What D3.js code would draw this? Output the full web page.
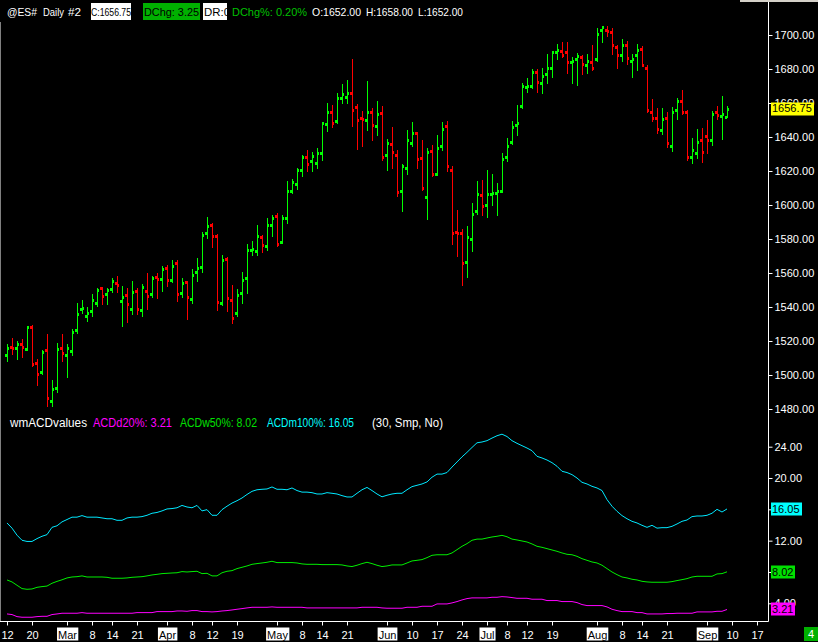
<!DOCTYPE html>
<html><head><meta charset="utf-8">
<script src="https://cdn.jsdelivr.net/npm/d3@7/dist/d3.min.js"></script>
<style>html,body{margin:0;padding:0;background:#000;}svg{display:block;font-family:"Liberation Sans",Arial,sans-serif;}</style>
</head><body>
<svg id="c" width="818" height="642"></svg>
<script>
// ---- data (bar index 0 = Feb 12, 2013; one bar per trading day) ----
const openP = [1511.5,1516.75,1515.75,1518,1515.25,1528.25,1507,1501.5,1514.5,1484.5,1492.25,1516,1511.5,1514,1526.25,1538.75,1534.5,1537.5,1542.25,1551,1547.5,1550.5,1554,1543.5,1547,1538.75,1549.5,1538.25,1549.5,1547.5,1557.5,1556.25,1562.75,1555.75,1566,1548,1554.75,1545,1560.5,1563.25,1583.25,1588,1581.5,1542.25,1568.5,1544,1536.25,1548,1557,1573.25,1572.75,1581,1575.75,1588,1593.25,1578.5,1592.25,1608,1612.25,1620.5,1628,1625.75,1625,1630.5,1647.5,1655,1649.25,1662.75,1663.25,1665.75,1657.5,1651,1649.75,1654.5,1646.25,1654,1629.25,1635.75,1629.25,1608,1621.5,1636.25,1642.25,1627.5,1604.5,1631.5,1618.5,1634.5,1646.25,1620.5,1584,1583.25,1566.25,1579.75,1596.25,1606,1599.75,1606.25,1607,1608.5,1628.5,1637,1647,1658,1669.25,1669.75,1678,1671.5,1677,1680.5,1690.25,1690.5,1689.75,1684,1685.75,1687,1682.25,1684,1685.75,1702.75,1702.75,1701.5,1692.75,1688.5,1694,1685,1688,1691.5,1680.5,1654.5,1651,1644,1651,1635,1655.75,1661,1654.5,1628,1630.5,1638.5,1640.5,1638,1654.5,1652.25,1652];
const highP = [1518.25,1521.75,1520,1521.25,1529,1529.5,1509.5,1514.75,1524.25,1497,1518.75,1524.25,1518,1527,1542.5,1544.25,1540,1547.75,1551.25,1551.75,1551.25,1557,1558.25,1552.5,1551.25,1555.5,1551.25,1553.5,1560,1558.25,1559.75,1564,1564.75,1567.75,1567.75,1557,1555.5,1562.5,1568.75,1584,1593,1589.5,1583,1570.5,1569.5,1553,1550.5,1560.5,1577,1578.75,1588.25,1582.5,1592.5,1594,1595.25,1594,1614,1615.25,1621.75,1629.5,1632.5,1631.25,1633.5,1648.75,1660,1658.75,1666,1671.25,1673.5,1686,1659.5,1655.25,1673,1657,1661.25,1658.25,1638.75,1646,1632.5,1624,1644,1648.75,1643,1638.25,1633.5,1635.25,1641.25,1648.75,1649.5,1623,1597,1586,1587.5,1601.25,1614,1614.75,1620.5,1618.25,1613,1630.5,1639.5,1649.5,1658.75,1671.75,1674.75,1680,1680,1680.5,1688.75,1690.5,1694.75,1696,1696,1687,1689.5,1688.25,1688.75,1694,1704,1705.25,1705.25,1704,1694,1697.5,1696.5,1688.75,1694.75,1693.5,1682.25,1662.5,1657,1657,1654.75,1657.5,1663,1667.5,1656,1639.5,1644.75,1645.25,1650,1655.25,1658.25,1664,1658];
const lowP = [1508,1512.5,1509.5,1510.75,1514.5,1505.5,1494.25,1500.5,1481.5,1482,1489.75,1508.25,1499,1511.75,1524.5,1536.75,1532,1535,1540.5,1541.5,1542,1549,1549,1529,1531.25,1536,1536,1535,1539,1546,1545.5,1549.5,1552.5,1554.5,1543.5,1546,1533,1542.5,1555.25,1560.5,1580.75,1575,1538.5,1541.25,1537.75,1530.75,1535,1542.5,1548.5,1570.5,1570.5,1572.5,1573.75,1581.5,1576,1577.75,1589.5,1607.25,1609.5,1617.25,1620.25,1620.25,1622,1626.75,1643.25,1646,1648.5,1660,1660,1646.75,1633,1635,1644,1638.5,1641.25,1626.75,1620.5,1621.75,1605.5,1596.75,1618.5,1635,1622,1609,1592,1617.25,1617.75,1632.5,1620.25,1577.25,1570.25,1553,1557.75,1573,1595,1594.25,1593,1600.25,1594.25,1607.75,1626,1636,1641.25,1657.25,1666.75,1669,1666.5,1666,1671.75,1675.25,1686,1687,1677.5,1671.75,1670.5,1677,1677.5,1679.5,1685,1696,1699.5,1689,1680.75,1685,1683,1675.5,1679.5,1681.5,1655,1649.5,1642.5,1641.5,1634.25,1632,1650.5,1653.5,1626.75,1625,1627.75,1625.5,1630.75,1635.5,1650.75,1639,1652];
const closeP = [1515.75,1516,1518.25,1516.5,1528,1506.5,1500.5,1513.75,1486.25,1491.5,1515.25,1512.75,1516,1525.5,1536,1539.25,1536.5,1544.25,1550,1546.5,1549.75,1555.5,1552.75,1546,1541.5,1548.75,1538.75,1551.5,1546.25,1557.25,1556.25,1562.25,1555.75,1564,1547.75,1554,1545.75,1559,1563,1582.5,1587.5,1581.5,1542.75,1567.75,1545.5,1533.25,1547.25,1555.75,1573.25,1574,1581.5,1576.25,1588.25,1592.5,1577,1592.5,1608,1613.25,1620.5,1628,1624.25,1629,1630.5,1648,1654.5,1648,1662.75,1665,1665.75,1655.75,1649.75,1650.5,1654.5,1647,1653.25,1628.5,1636.25,1631,1607.5,1622.75,1638.5,1642.25,1627,1609.75,1631,1618,1633.25,1645,1623,1583.25,1583.25,1565.75,1581,1595,1606.25,1599.25,1606.25,1607,1608.5,1627,1635,1645.75,1648.5,1669.75,1669.75,1678,1672.25,1675.75,1680.5,1689.75,1691,1688.5,1684,1684.5,1687.5,1682.75,1685,1680.5,1700.5,1704.5,1702.25,1694,1688.5,1694,1686.25,1685.75,1691,1682.25,1655.75,1651,1645,1650.5,1636.25,1654.5,1661,1654.5,1628,1632.25,1637,1631,1638.5,1653.25,1652.75,1653.5,1656.75];

const acdD20 = [2.64,2.56,2.3,2.22,2.22,2.22,2.3,2.34,2.34,2.56,2.64,2.73,2.73,2.73,2.73,2.81,2.73,2.73,2.73,2.73,2.73,2.73,2.73,2.73,2.73,2.73,2.81,2.81,2.81,2.81,2.94,2.94,2.94,2.94,3.02,3.02,2.98,3.07,3.07,2.94,2.94,2.9,2.94,3.02,3.07,3.15,3.24,3.32,3.41,3.49,3.49,3.49,3.49,3.54,3.49,3.49,3.49,3.49,3.49,3.49,3.41,3.41,3.41,3.41,3.41,3.41,3.41,3.41,3.41,3.41,3.41,3.49,3.49,3.49,3.49,3.41,3.37,3.37,3.37,3.37,3.49,3.49,3.49,3.62,3.62,3.62,3.92,3.92,3.92,4.05,4.22,4.43,4.6,4.69,4.69,4.69,4.69,4.77,4.77,4.85,4.81,4.73,4.64,4.64,4.64,4.52,4.52,4.52,4.35,4.35,4.35,4.22,4.22,4.22,4.09,3.84,3.71,3.71,3.71,3.71,3.54,3.24,3.07,2.94,2.94,2.94,2.81,2.81,2.64,2.64,2.64,2.64,2.69,2.69,2.73,2.73,2.73,2.73,2.9,2.9,2.9,2.9,2.98,2.98,3.21];
const acdW50 = [6.98,6.73,6.3,5.88,5.79,5.83,6.04,6.13,6.2,6.56,6.8,7.0,7.24,7.36,7.4,7.5,7.36,7.36,7.36,7.36,7.32,7.2,7.2,7.2,7.24,7.32,7.36,7.4,7.5,7.62,7.7,7.79,7.83,7.87,7.9,8.05,8.0,8.05,8.09,7.79,7.83,7.5,7.5,7.9,8.09,8.17,8.43,8.6,8.77,8.98,9.07,9.15,9.24,9.37,9.2,9.2,9.2,9.2,9.15,9.03,8.98,8.98,8.98,8.94,8.94,8.94,8.94,8.9,8.77,8.69,8.86,9.07,9.24,9.07,8.86,8.69,8.77,8.9,8.9,8.9,9.15,9.41,9.49,9.58,9.83,10.13,10.2,10.2,10.2,10.43,10.85,11.28,11.62,12.05,12.2,12.2,12.34,12.47,12.56,12.68,12.5,12.2,12.09,11.96,11.83,11.58,11.28,11.15,10.98,10.81,10.64,10.43,10.26,10.2,10.0,9.7,9.49,9.28,9.15,8.86,8.43,8.0,7.66,7.36,7.24,7.07,6.98,6.81,6.73,6.69,6.69,6.69,6.69,6.77,6.9,7.02,7.15,7.36,7.45,7.45,7.45,7.45,7.75,7.79,8.02];
const acdM100 = [14.26,13.6,12.7,12.05,11.9,11.9,12.26,12.56,12.77,13.7,13.9,14.4,14.7,15.0,15.0,15.2,15.0,15.0,15.0,14.9,14.8,14.8,14.6,14.6,14.9,15.0,15.0,15.07,15.24,15.5,15.6,15.8,16.05,16.1,16.2,16.5,16.3,16.2,16.5,15.8,15.96,15.24,15.24,15.96,16.4,16.8,17.1,17.45,17.9,18.3,18.5,18.56,18.6,18.86,18.56,18.56,18.5,18.73,18.4,18.2,18.2,18.13,17.96,17.96,18.13,18.05,17.96,17.75,17.58,17.58,18.05,18.5,18.8,18.4,17.96,17.6,17.8,17.96,18.05,18.05,18.5,18.9,19.07,19.24,19.5,20.1,20.5,20.5,20.7,21.4,22.05,22.7,23.28,23.9,24.5,24.6,24.77,25.1,25.4,25.6,25.3,24.77,24.43,24.13,23.83,23.49,22.77,22.56,22.3,21.96,21.5,20.86,20.7,20.43,20.0,19.45,19.24,18.94,18.73,18.4,17.24,16.4,15.75,15.2,14.8,14.47,14.26,13.96,13.7,13.96,13.6,13.66,13.66,13.83,14.13,14.47,14.64,15.07,15.15,15.15,15.24,15.5,16.0,15.66,16.05];

const xTickIdx = [0,5,12,17,21,26,32,37,41,46,54,59,63,68,76,81,86,91,96,100,104,109,118,123,127,132,140,145,150];
const xTickLabels = ['12','20','Mar','8','14','21','Apr','8','12','19','May','8','14','21','Jun','10','17','24','Jul','8','12','19','Aug','8','14','21','Sep','10','17'];
const monthLabels = ['Mar','Apr','May','Jun','Jul','Aug','Sep'];
const priceTicks = [1480,1500,1520,1540,1560,1580,1600,1620,1640,1660,1680,1700];
const acdTicks = [4,8,12,16,20,24];

const headerTexts = ['@ES#','Daily','#2','C:1656.75','DChg: 3.25','DR:0','DChg%: 0.20%','O:1652.00','H:1658.00','L:1652.00'];
const legendName = 'wmACDvalues';
const legendItems = ['ACDd20%: 3.21','ACDw50%: 8.02','ACDm100%: 16.05'];
const legendParams = '(30, Smp, No)';
const lastPrice = 1656.75;
const lastAcd = [3.21, 8.02, 16.05];

// ---- drawing ----
const svg = d3.select('#c');
const FONT = 11;
svg.append('rect').attr('width',818).attr('height',642).attr('fill','#000');

const x = d3.scaleLinear().domain([0,144]).range([7,727]);
const yP = d3.scaleLinear().domain([1480,1700]).range([409,35]);
const yA = d3.scaleLinear().domain([4,24]).range([603.3,446.7]);

const GREEN = '#00ff00', RED = '#ff0000', MAG = '#ff00ff', CYAN = '#00e8ff', LGREEN='#00ee00';

// top strip
svg.append('rect').attr('x',740).attr('y',0).attr('width',78).attr('height',2).attr('fill','#d4d0c8');

// bars
const bars = svg.append('g').attr('shape-rendering','crispEdges');
d3.range(openP.length).forEach(i => {
  const col = closeP[i] >= openP[i] ? GREEN : RED;
  const cx = Math.round(x(i));
  bars.append('rect').attr('x',cx).attr('y',Math.round(yP(highP[i])))
    .attr('width',1).attr('height',Math.max(1,Math.round(yP(lowP[i]))-Math.round(yP(highP[i]))+1)).attr('fill',col);
  bars.append('rect').attr('x',cx-2).attr('y',Math.round(yP(openP[i]))-1).attr('width',2).attr('height',3).attr('fill',col);
  bars.append('rect').attr('x',cx+1).attr('y',Math.round(yP(closeP[i]))-1).attr('width',1).attr('height',3).attr('fill',col);
});

// ACD lines
const line = d3.line().x((d,i)=>x(i)).y(d=>yA(d));
[[acdD20,MAG],[acdW50,LGREEN],[acdM100,CYAN]].forEach(([arr,c])=>{
  svg.append('path').datum(arr).attr('d',line).attr('fill','none').attr('stroke',c).attr('stroke-width',1);
});

// axes lines
svg.append('line').attr('x1',768.5).attr('x2',768.5).attr('y1',2).attr('y2',621.5).attr('stroke','#fff').attr('stroke-width',1);
svg.append('line').attr('x1',0).attr('x2',768.5).attr('y1',621.5).attr('y2',621.5).attr('stroke','#fff').attr('stroke-width',1);
svg.append('line').attr('x1',0.5).attr('x2',0.5).attr('y1',22).attr('y2',621).attr('stroke','#808080').attr('stroke-width',1);

// right axes
const hiddenAcd = [8,16]; // fully covered by the value tags
const axP = d3.axisRight(yP).tickValues(priceTicks).tickSize(4).tickPadding(2).tickFormat(d3.format('.2f'));
const gP = svg.append('g').attr('transform','translate(768.5,0)').call(axP);
const axA = d3.axisRight(yA).tickValues(acdTicks).tickSize(4).tickPadding(2)
  .tickFormat(d => hiddenAcd.includes(d) ? '' : d3.format('.2f')(d));
const gA = svg.append('g').attr('transform','translate(768.5,0)').call(axA);
[gP,gA].forEach(g=>{
  g.select('.domain').remove();
  g.selectAll('line').attr('stroke','#fff');
  g.selectAll('text').attr('fill','#fff').attr('font-size',FONT).attr('font-family','"Liberation Sans",Arial,sans-serif');
});

// bottom axis
const axX = d3.axisBottom(x).tickValues(xTickIdx).tickSize(4).tickPadding(6).tickFormat((d,i)=>xTickLabels[i]);
const gX = svg.append('g').attr('transform','translate(0,621.5)').call(axX);
gX.select('.domain').remove();
gX.selectAll('line').attr('stroke','#fff');
gX.selectAll('text').attr('fill','#fff').attr('font-size',FONT).attr('font-family','"Liberation Sans",Arial,sans-serif');
gX.selectAll('.tick').each(function(d,i){
  const t = d3.select(this);
  if (monthLabels.includes(xTickLabels[i])) {
    const txt = t.select('text');
    const bb = txt.node().getBBox();
    t.insert('rect','text').attr('x',bb.x-1).attr('y',6).attr('width',bb.width+2).attr('height',13).attr('fill','#fff');
    txt.attr('fill','#000');
  }
});

// value tags on right axis
function tag(y, text, bg, fg, w){
  const g = svg.append('g');
  g.append('rect').attr('x',771).attr('y',Math.round(y)-6.5).attr('width',w).attr('height',13).attr('fill',bg);
  g.append('text').attr('x',772).attr('y',y).attr('dy','0.35em').attr('font-size',FONT).attr('fill',fg).text(text);
}
tag(yP(lastPrice), d3.format('.2f')(lastPrice), '#ffff00', '#000', 43);
tag(yA(lastAcd[2]), d3.format('.2f')(lastAcd[2]), '#00ffff', '#000', 31);
tag(yA(lastAcd[1]), d3.format('.2f')(lastAcd[1]), '#00e000', '#000', 24);
tag(yA(lastAcd[0]), d3.format('.2f')(lastAcd[0]), '#ff00ff', '#000', 24);

// bar count box bottom right
svg.append('rect').attr('x',804).attr('y',627).attr('width',14).attr('height',14).attr('fill','#00b000');
svg.append('text').attr('x',811).attr('y',634).attr('dy','0.35em').attr('text-anchor','middle').attr('font-size',FONT).attr('fill','#fff').text('4');

// header
const defs = svg.append('defs');
const hy = 15.5;
const hX   = [7, 43, 68, 91, 144, 204, 232, 312, 366, 418];
const hLen = [30, 21, 13, 40, 55, 26, 75, 49, 47, 45];
const hFill= ['#fff','#fff','#fff','#000','#000','#000','#00c000','#fff','#fff','#fff'];
const boxes = {3:[91,40,'#fff'], 4:[143,57,'#00b000'], 5:[203,24,'#fff']};
headerTexts.forEach((t,i)=>{
  let clip = null;
  if (boxes[i]) {
    const [bx,bw,bc] = boxes[i];
    svg.append('rect').attr('x',bx).attr('y',3).attr('width',bw).attr('height',17).attr('fill',bc);
    clip = 'hc'+i;
    defs.append('clipPath').attr('id',clip).append('rect').attr('x',bx).attr('y',3).attr('width',bw).attr('height',17);
  }
  const e = svg.append('text').attr('x',hX[i]).attr('y',hy).attr('font-size',11).attr('fill',hFill[i])
    .attr('textLength',hLen[i]).attr('lengthAdjust','spacingAndGlyphs').text(t);
  if (clip) e.attr('clip-path',`url(#${clip})`);
});

// legend
const ly = 427;
const legTexts = [legendName, ...legendItems, legendParams];
const legX = [10, 93, 180, 267, 372];
const legLen = [77, 79, 77, 87, 71];
const legCol = ['#fff', MAG, '#00e000', '#00ffff', '#fff'];
legTexts.forEach((t,i)=>svg.append('text').attr('x',legX[i]).attr('y',ly).attr('font-size',12)
  .attr('textLength',legLen[i]).attr('lengthAdjust','spacingAndGlyphs').attr('fill',legCol[i]).text(t));
</script>
</body></html>
